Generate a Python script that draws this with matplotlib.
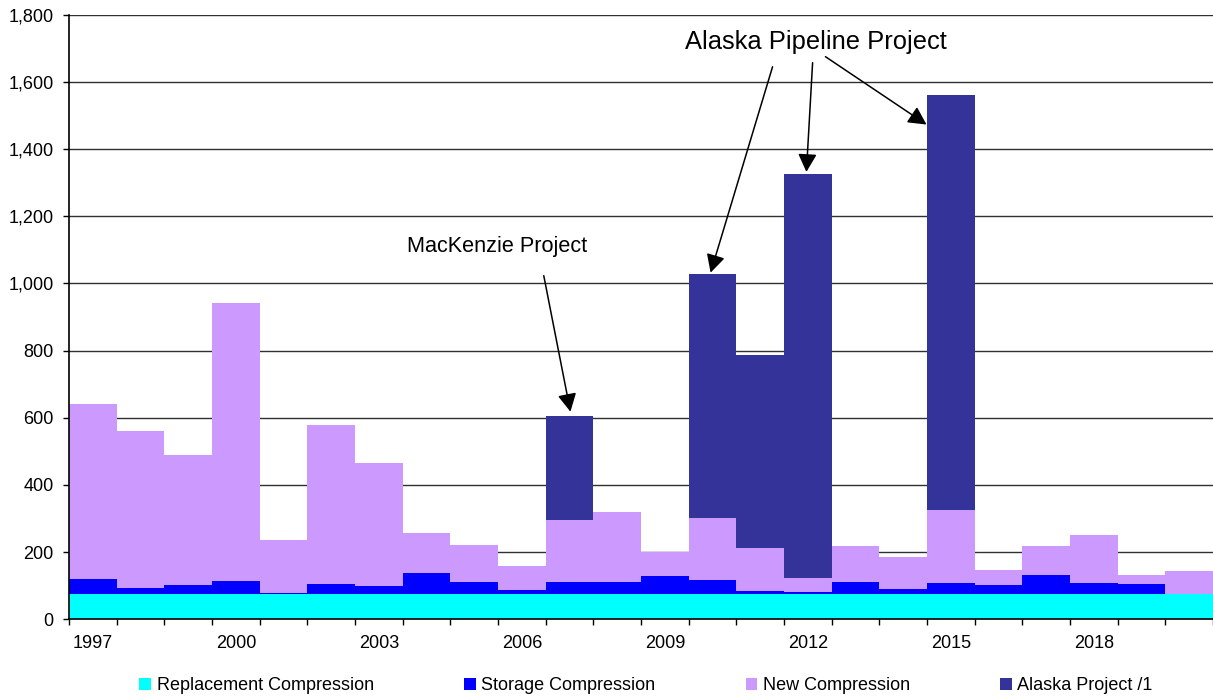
import matplotlib
matplotlib.use("Agg")
import matplotlib.pyplot as plt
import numpy as np
from matplotlib.ticker import FuncFormatter, FixedLocator
from matplotlib.patches import Patch

plt.rcParams['font.family'] = ['Liberation Sans', 'DejaVu Sans']

years = list(range(1997, 2021))
replacement = [76] * 24
storage = [44, 17, 26, 39, 3, 29, 23, 63, 34, 11, 35, 35,
           53, 41, 8, 5, 35, 14, 32, 27, 56, 32, 30, 0]
new_comp = [522, 468, 388, 826, 158, 472, 365, 119, 110, 72, 186, 209,
            70, 185, 127, 43, 108, 96, 217, 44, 87, 144, 26, 68]
alaska = [0, 0, 0, 0, 0, 0, 0, 0, 0, 0, 307, 0,
          0, 726, 575, 1202, 0, 0, 1237, 0, 0, 0, 0, 0]
label_years = [1997, 2000, 2003, 2006, 2009, 2012, 2015, 2018]

series_names = ["Replacement Compression", "Storage Compression",
                "New Compression", "Alaska Project /1"]
colors = ["#00FFFF", "#0000FF", "#CC99FF", "#333399"]

fig = plt.figure(figsize=(12.13, 6.98), dpi=100)
ax = fig.add_axes([69 / 1213, 1 - 619.3 / 698, 1 - 69 / 1213, (619.3 - 14.7) / 698])

x = np.array(years)
bottom = np.zeros(len(years))
for vals, col in zip([replacement, storage, new_comp, alaska], colors):
    v = np.array(vals, dtype=float)
    ax.bar(x, v, width=1.0, bottom=bottom, color=col, linewidth=0, zorder=3)
    bottom += v

ax.set_xlim(1996.5, 2020.5)
ax.set_ylim(0, 1800)

# gridlines
ax.set_yticks(np.arange(0, 1801, 200))
ax.yaxis.set_major_formatter(FuncFormatter(lambda v, p: f"{int(v):,}"))
ax.grid(axis='y', color='#303030', linewidth=1.0, zorder=0)
ax.set_axisbelow(True)

# x ticks: marks at bar edges, labels at bar centres
ax.xaxis.set_major_locator(FixedLocator(np.arange(1996.5, 2020.6, 1.0)))
ax.xaxis.set_major_formatter(FuncFormatter(lambda v, p: ""))
ax.xaxis.set_minor_locator(FixedLocator(label_years))
ax.xaxis.set_minor_formatter(FuncFormatter(lambda v, p: f"{int(round(v))}"))
ax.tick_params(axis='x', which='major', direction='out', length=4.5, width=1, color='black')
ax.tick_params(axis='x', which='minor', length=0, pad=11.5, labelsize=13)
ax.tick_params(axis='y', direction='out', length=4, width=1, pad=7, labelsize=13)

for s in ['top', 'right']:
    ax.spines[s].set_visible(False)
for s in ['left', 'bottom']:
    ax.spines[s].set_color('black')
    ax.spines[s].set_linewidth(1.2)
    ax.spines[s].set_zorder(4)

arrow_kw = dict(arrowstyle='-|>,head_length=0.5,head_width=0.26', color='black',
                lw=1.1, mutation_scale=22, shrinkA=0, shrinkB=0)

# MacKenzie annotation
ax.text(2005.47, 1109, "MacKenzie Project", ha='center', va='center', fontsize=15.6, zorder=6)
ax.annotate("", xy=(2007.02, 618), xytext=(2006.46, 1023), arrowprops=arrow_kw, zorder=6)

# Alaska pipeline annotation
ax.text(2012.16, 1720, "Alaska Pipeline Project", ha='center', va='center', fontsize=18.4, zorder=6)
ax.annotate("", xy=(2009.96, 1032), xytext=(2011.26, 1645), arrowprops=arrow_kw, zorder=6)
ax.annotate("", xy=(2011.97, 1332), xytext=(2012.10, 1657), arrowprops=arrow_kw, zorder=6)
ax.annotate("", xy=(2014.49, 1473), xytext=(2012.37, 1675), arrowprops=arrow_kw, zorder=6)

handles = [Patch(facecolor=c, edgecolor='none') for c in colors]
fig.legend(handles, series_names, loc='center', bbox_to_anchor=(646 / 1213, 1 - 685.5 / 698),
           ncol=4, frameon=False, fontsize=13, handlelength=0.65, handleheight=0.65,
           handletextpad=0.3, columnspacing=5.0, borderaxespad=0, borderpad=0)

fig.savefig("out.png", dpi=100)
